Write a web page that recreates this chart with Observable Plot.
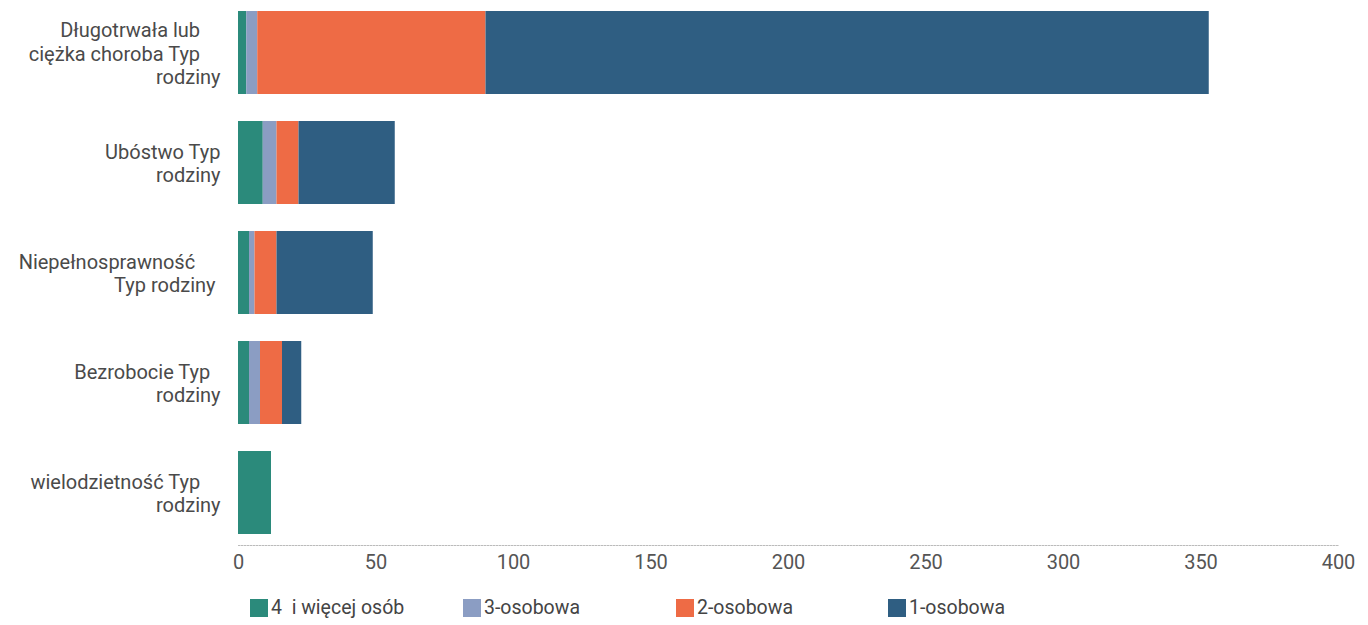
<!DOCTYPE html>
<html>
<head>
<meta charset="utf-8">
<script src="https://cdn.jsdelivr.net/npm/d3@7"></script>
<script src="https://cdn.jsdelivr.net/npm/@observablehq/plot@0.6"></script>
<style>
  body { margin: 0; background: #fff; font-family: Roboto, sans-serif; }
  #legend { position: relative; height: 35px; width: 1368px; }
  .item { position: absolute; top: 0; display: flex; align-items: center; font-size: 19.5px; color: #444; height: 35px; }
  .sw { width: 18px; height: 18px; margin-right: 3px; }
</style>
</head>
<body>
<div id="chart"></div>
<div id="legend"></div>
<script>
const categories = ["Długotrwała lub ciężka choroba", "Ubóstwo", "Niepełnosprawność", "Bezrobocie", "wielodzietność"];
const categoryLabels = [
  "Długotrwała lub\u2002\u2002\nciężka choroba Typ\u2002\u2002\nrodziny",
  "Ubóstwo Typ\nrodziny",
  "Niepełnosprawność\u2002\u2002\u00a0\nTyp rodziny\u00a0",
  "Bezrobocie Typ\u2002\nrodziny",
  "wielodzietność Typ\u2002\u2002\nrodziny"
];
const series = ["4  i więcej osób", "3-osobowa", "2-osobowa", "1-osobowa"];
const colors = ["#2b8a7b", "#8b9dc3", "#ee6b45", "#2f5e82"];
const v4plus = [3, 9, 4, 4, 12];
const v3 = [4, 5, 2, 4, 0];
const v2 = [83, 8, 8, 8, 0];
const v1 = [263, 35, 35, 7, 0];
const xTicks = [0, 50, 100, 150, 200, 250, 300, 350, 400];
const legendLeft = [250, 463, 676, 888];

const seriesValues = [v4plus, v3, v2, v1];
const data = [];
categories.forEach((c, i) => {
  series.forEach((s, j) => {
    if (seriesValues[j][i] > 0) data.push({category: c, series: s, value: seriesValues[j][i]});
  });
});
const labelOf = new Map(categories.map((c, i) => [c, categoryLabels[i]]));

const chart = Plot.plot({
  width: 1368,
  height: 590,
  marginLeft: 238,
  marginRight: 30,
  marginTop: 0,
  marginBottom: 45,
  style: {fontFamily: "Roboto, sans-serif", background: "white"},
  x: {domain: [0, 400], label: null},
  y: {domain: categories, paddingInner: 0.25, paddingOuter: 0.1, label: null},
  color: {domain: series, range: colors},
  marks: [
    Plot.barX(data, Plot.stackX({x: "value", y: "category", fill: "series", order: series})),
    Plot.frame({anchor: "bottom", stroke: "#bbb", strokeDasharray: "1.5,1.5"}),
    Plot.axisX({ticks: xTicks, tickSize: 0, tickPadding: 9, fontSize: 20, fill: "#555", label: null}),
    Plot.axisY({tickSize: 0, tickPadding: 18, fontSize: 20, lineHeight: 1.17, fill: "#4a4a4a", label: null,
      tickFormat: d => labelOf.get(d)})
  ]
});
document.getElementById("chart").appendChild(chart);

const legend = document.getElementById("legend");
series.forEach((s, j) => {
  const item = document.createElement("div");
  item.className = "item";
  item.style.left = legendLeft[j] + "px";
  const sw = document.createElement("div");
  sw.className = "sw";
  sw.style.background = colors[j];
  const t = document.createElement("span");
  t.textContent = s;
  t.style.whiteSpace = "pre";
  item.appendChild(sw);
  item.appendChild(t);
  legend.appendChild(item);
});
</script>
</body>
</html>
